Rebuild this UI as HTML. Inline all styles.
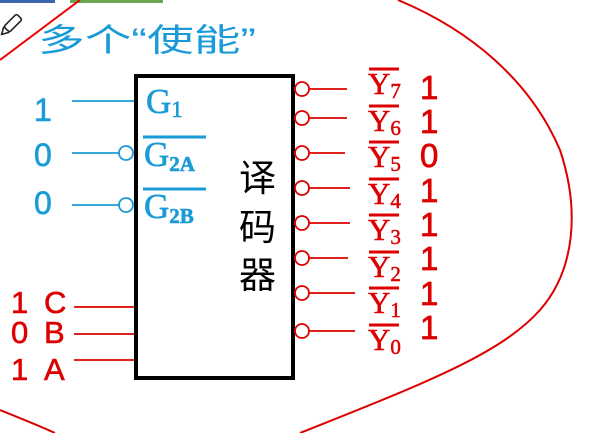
<!DOCTYPE html>
<html><head><meta charset="utf-8"><style>
html,body{margin:0;padding:0;background:#fff;}
svg{display:block;}
.s{font-family:"Liberation Sans","Noto Sans CJK SC",sans-serif;}
.f{font-family:"Liberation Serif","Noto Serif CJK SC",serif;}
</style></head><body>
<svg width="604" height="433" viewBox="0 0 604 433" xmlns="http://www.w3.org/2000/svg">
<rect x="0" y="0" width="604" height="433" fill="#fff"/>
<rect x="0" y="0" width="55" height="3" fill="#3a66b0"/>
<rect x="70" y="0" width="93" height="3" fill="#6aa84f"/>
<path d="M0,60 L80,0" stroke="#e00" stroke-width="2" fill="none"/>
<path d="M398,0 C470,30 530,80 560,150 C580,210 575,270 540,310 C500,355 420,385 300,433" stroke="#d00" stroke-width="2" fill="none"/>
<path d="M0,410 C20,418 40,426 55,433" stroke="#d00" stroke-width="2" fill="none"/>
<g transform="translate(8,28) rotate(-45)" stroke="#222" stroke-width="1.6" fill="none">
<rect x="-2" y="-4" width="18" height="8" rx="2"/><path d="M-2,-4 L-9,0 L-2,4"/>
</g>
<text x="38" y="51" class="s" font-size="32" fill="#1a9ad6" textLength="218" lengthAdjust="spacingAndGlyphs">多个“使能”</text>
<rect x="136" y="76" width="157" height="302" fill="none" stroke="#000" stroke-width="4"/>
<text x="239" y="191" class="s" font-size="37" fill="#000">译</text>
<text x="239" y="240" class="s" font-size="37" fill="#000">码</text>
<text x="239" y="288" class="s" font-size="37" fill="#000">器</text>
<g stroke="#1a9ad6" stroke-width="1.8" fill="#fff">
<line x1="72" y1="101" x2="134" y2="101"/>
<line x1="72" y1="153" x2="119" y2="153"/>
<line x1="72" y1="205" x2="119" y2="205"/>
<circle cx="126" cy="153" r="7"/>
<circle cx="126" cy="205" r="7"/>
<line x1="143" y1="137" x2="206" y2="137" stroke-width="3"/>
<line x1="143" y1="189" x2="206" y2="189" stroke-width="3"/>
</g>
<g fill="#1a9ad6" stroke="#1a9ad6" stroke-width="0.6">
<text x="34" y="121" class="s" font-size="32">1</text>
<text x="34" y="166" class="s" font-size="32">0</text>
<text x="34" y="214" class="s" font-size="32">0</text>
<text x="146" y="113" class="f" font-size="35">G<tspan font-size="23" dy="4">1</tspan></text>
<text x="144" y="166" class="f" font-size="35">G<tspan font-size="21" dy="5" font-weight="bold">2A</tspan></text>
<text x="144" y="218" class="f" font-size="35">G<tspan font-size="21" dy="5" font-weight="bold">2B</tspan></text>
</g>
<g stroke="#d00" stroke-width="1.8">
<line x1="74" y1="307" x2="134" y2="307"/>
<line x1="74" y1="334" x2="134" y2="334"/>
<line x1="74" y1="360" x2="134" y2="360"/>
</g>
<g fill="#d00" stroke="#d00" stroke-width="0.6" class="s" font-size="31">
<text x="11" y="313">1</text><text x="44" y="313">C</text>
<text x="11" y="343">0</text><text x="44" y="343">B</text>
<text x="11" y="380">1</text><text x="44" y="380">A</text>
</g>
<g stroke="#d00" stroke-width="1.8" fill="#fff">
<line x1="309" y1="89" x2="347" y2="89"/><circle cx="302" cy="89" r="7"/>
<line x1="309" y1="118" x2="347" y2="118"/><circle cx="302" cy="118" r="7"/>
<line x1="309" y1="153" x2="345" y2="153"/><circle cx="302" cy="153" r="7"/>
<line x1="309" y1="188" x2="350" y2="188"/><circle cx="302" cy="188" r="7"/>
<line x1="309" y1="223" x2="350" y2="223"/><circle cx="302" cy="223" r="7"/>
<line x1="309" y1="258" x2="348" y2="258"/><circle cx="302" cy="258" r="7"/>
<line x1="309" y1="293" x2="355" y2="293"/><circle cx="302" cy="293" r="7"/>
<line x1="309" y1="331" x2="355" y2="331"/><circle cx="302" cy="331" r="7"/>
</g>
<g stroke="#d00" stroke-width="3">
<line x1="369" y1="69" x2="399" y2="69"/>
<line x1="369" y1="106" x2="399" y2="106"/>
<line x1="369" y1="142" x2="399" y2="142"/>
<line x1="369" y1="179" x2="399" y2="179"/>
<line x1="369" y1="215" x2="399" y2="215"/>
<line x1="369" y1="252" x2="399" y2="252"/>
<line x1="369" y1="288" x2="399" y2="288"/>
<line x1="369" y1="325" x2="399" y2="325"/>
</g>
<g fill="#d00" stroke="#d00" stroke-width="0.5" class="f" font-size="31">
<text x="368" y="94">Y<tspan font-size="21" dy="4">7</tspan></text>
<text x="368" y="131">Y<tspan font-size="21" dy="4">6</tspan></text>
<text x="368" y="167">Y<tspan font-size="21" dy="4">5</tspan></text>
<text x="368" y="204">Y<tspan font-size="21" dy="4">4</tspan></text>
<text x="368" y="240">Y<tspan font-size="21" dy="4">3</tspan></text>
<text x="368" y="277">Y<tspan font-size="21" dy="4">2</tspan></text>
<text x="368" y="313">Y<tspan font-size="21" dy="4">1</tspan></text>
<text x="368" y="350">Y<tspan font-size="21" dy="4">0</tspan></text>
</g>
<g fill="#d00" stroke="#d00" stroke-width="0.7" class="s" font-size="33">
<text x="420" y="99">1</text>
<text x="420" y="133">1</text>
<text x="420" y="167">0</text>
<text x="420" y="202">1</text>
<text x="420" y="236">1</text>
<text x="420" y="270">1</text>
<text x="420" y="305">1</text>
<text x="420" y="339">1</text>
</g>
</svg>
</body></html>
